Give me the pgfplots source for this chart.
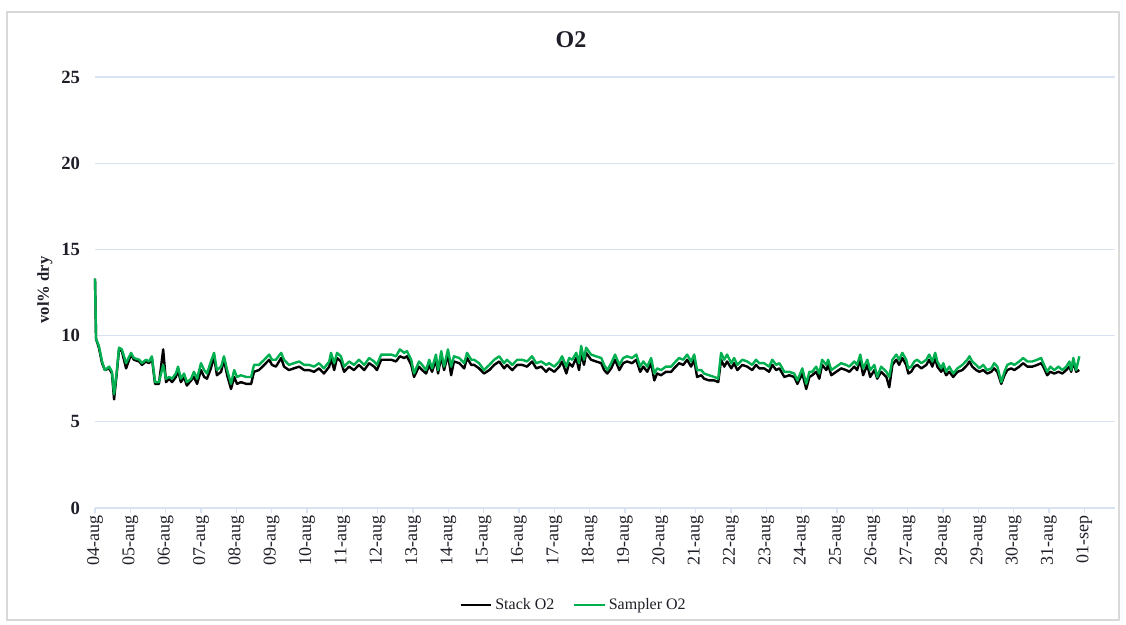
\documentclass[border=0pt]{standalone}
\usepackage{fontspec}
\setmainfont{Liberation Serif}
\usepackage{pgfplots}
\usepackage{pgfplotstable}
\pgfplotsset{compat=1.18}
\definecolor{gridc}{RGB}{217,226,242}
\definecolor{samplergreen}{RGB}{0,176,80}
\definecolor{labc}{RGB}{30,30,40}
\definecolor{borderc}{RGB}{217,217,217}
\pgfplotstableread{
day stack sampler
0.00 13.3 13.3
0.03 9.8 9.8
0.11 9.3 9.4
0.20 8.4 8.5
0.28 8.0 8.0
0.40 8.1 8.2
0.48 7.8 7.9
0.54 6.3 6.6
0.62 7.9 8.0
0.68 9.2 9.3
0.76 9.1 9.2
0.88 8.1 8.4
1.02 8.9 9.0
1.10 8.6 8.7
1.25 8.5 8.6
1.33 8.3 8.4
1.44 8.5 8.6
1.53 8.4 8.5
1.61 8.7 8.8
1.70 7.2 7.3
1.81 7.2 7.3
1.93 9.2 8.3
2.01 7.3 7.5
2.10 7.5 7.6
2.18 7.3 7.5
2.29 7.6 7.8
2.35 8.0 8.2
2.43 7.3 7.5
2.52 7.6 7.8
2.60 7.1 7.3
2.72 7.4 7.5
2.80 7.6 7.9
2.89 7.2 7.5
3.00 8.0 8.4
3.09 7.6 8.0
3.17 7.5 7.8
3.28 8.1 8.5
3.37 8.8 9.0
3.45 7.7 8.0
3.57 7.9 8.2
3.65 8.6 8.8
3.74 7.7 8.0
3.85 6.9 7.2
3.94 7.6 8.0
4.02 7.2 7.6
4.13 7.3 7.7
4.28 7.2 7.6
4.42 7.2 7.6
4.50 7.9 8.3
4.64 8.0 8.3
4.79 8.3 8.6
4.93 8.6 8.9
5.01 8.3 8.6
5.12 8.2 8.6
5.27 8.7 9.0
5.35 8.2 8.6
5.49 8.0 8.3
5.63 8.1 8.4
5.78 8.2 8.5
5.92 8.0 8.3
6.06 8.0 8.3
6.20 7.9 8.2
6.34 8.1 8.4
6.48 7.8 8.1
6.63 8.2 8.5
6.68 8.7 9.0
6.77 8.0 8.4
6.85 8.7 9.0
6.96 8.5 8.8
7.05 7.9 8.2
7.19 8.2 8.5
7.33 8.0 8.3
7.47 8.3 8.6
7.62 8.0 8.3
7.76 8.4 8.7
7.90 8.2 8.5
7.98 8.0 8.3
8.10 8.6 8.9
8.24 8.6 8.9
8.38 8.6 8.9
8.52 8.5 8.8
8.63 8.8 9.2
8.75 8.7 9.0
8.83 8.8 9.1
8.95 8.3 8.6
9.03 7.6 7.8
9.17 8.2 8.5
9.26 8.0 8.3
9.37 7.8 8.0
9.46 8.3 8.6
9.54 7.9 8.1
9.65 8.6 8.9
9.71 7.8 8.0
9.80 8.8 9.1
9.88 8.0 8.2
9.99 8.9 9.2
10.08 7.7 8.2
10.16 8.5 8.8
10.31 8.4 8.7
10.45 8.1 8.4
10.53 8.7 9.0
10.65 8.3 8.6
10.73 8.3 8.6
10.87 8.1 8.4
11.01 7.8 8.0
11.16 8.0 8.3
11.30 8.3 8.6
11.44 8.5 8.8
11.58 8.1 8.4
11.66 8.3 8.6
11.81 8.0 8.3
11.95 8.3 8.6
12.09 8.3 8.6
12.23 8.2 8.5
12.37 8.5 8.8
12.49 8.1 8.4
12.63 8.2 8.5
12.77 7.9 8.3
12.85 8.1 8.4
13.00 7.9 8.2
13.14 8.2 8.5
13.22 8.5 8.8
13.34 7.8 8.2
13.42 8.4 8.7
13.51 8.2 8.6
13.62 8.7 9.0
13.70 8.0 8.4
13.76 9.0 9.4
13.84 8.3 8.6
13.90 9.0 9.3
14.04 8.6 8.9
14.18 8.5 8.8
14.33 8.4 8.7
14.41 8.0 8.3
14.50 7.8 8.0
14.61 8.1 8.4
14.72 8.6 8.9
14.84 8.0 8.3
14.95 8.4 8.7
15.06 8.5 8.8
15.20 8.4 8.7
15.32 8.6 8.9
15.43 7.9 8.2
15.52 8.2 8.5
15.63 7.9 8.2
15.74 8.4 8.7
15.83 7.4 7.8
15.91 7.8 8.1
16.02 7.7 8.0
16.16 7.9 8.2
16.31 7.9 8.2
16.39 8.1 8.4
16.53 8.4 8.7
16.65 8.3 8.6
16.76 8.6 8.9
16.87 8.2 8.5
16.96 8.6 8.9
17.04 7.6 8.0
17.16 7.7 8.0
17.24 7.5 7.8
17.38 7.4 7.7
17.53 7.4 7.6
17.64 7.3 7.5
17.72 8.6 9.0
17.81 8.2 8.6
17.89 8.5 8.9
18.01 8.1 8.4
18.09 8.4 8.7
18.18 8.0 8.3
18.32 8.3 8.6
18.46 8.2 8.5
18.60 8.0 8.3
18.71 8.3 8.6
18.80 8.1 8.4
18.94 8.1 8.4
19.08 7.9 8.2
19.17 8.3 8.6
19.28 8.0 8.3
19.37 8.1 8.4
19.51 7.6 7.9
19.65 7.7 7.9
19.79 7.6 7.8
19.88 7.2 7.4
20.02 7.8 8.1
20.13 6.9 7.2
20.22 7.6 7.9
20.30 7.7 7.9
20.41 7.9 8.2
20.50 7.5 7.8
20.58 8.3 8.6
20.70 8.0 8.3
20.75 8.3 8.6
20.84 7.7 8.0
20.98 7.9 8.2
21.12 8.1 8.4
21.26 8.0 8.3
21.35 7.9 8.2
21.49 8.2 8.5
21.57 8.0 8.3
21.66 8.6 8.9
21.74 7.7 8.1
21.86 8.3 8.6
21.94 7.6 8.0
22.06 8.0 8.3
22.14 7.5 7.6
22.25 7.9 8.2
22.40 7.6 7.9
22.48 7.0 7.6
22.57 8.3 8.6
22.68 8.6 8.9
22.76 8.3 8.6
22.85 8.7 9.0
22.96 8.3 8.6
23.02 7.8 8.1
23.10 7.9 8.2
23.19 8.2 8.5
23.27 8.3 8.6
23.39 8.1 8.4
23.53 8.3 8.6
23.61 8.6 8.9
23.70 8.2 8.5
23.78 8.7 9.0
23.84 8.2 8.5
23.95 7.9 8.1
24.01 8.1 8.4
24.09 7.7 7.9
24.18 7.9 8.2
24.29 7.6 7.8
24.41 7.9 8.1
24.55 8.0 8.3
24.69 8.3 8.6
24.75 8.5 8.8
24.83 8.2 8.5
24.94 8.0 8.3
25.03 7.9 8.1
25.14 8.0 8.3
25.25 7.8 8.0
25.37 7.9 8.1
25.45 8.1 8.4
25.54 7.9 8.2
25.65 7.2 7.3
25.74 7.7 7.9
25.82 8.0 8.3
25.93 8.1 8.4
26.02 8.0 8.3
26.16 8.2 8.5
26.27 8.4 8.7
26.39 8.2 8.5
26.53 8.2 8.5
26.67 8.3 8.6
26.78 8.4 8.7
26.84 8.2 8.4
26.95 7.7 7.9
27.04 7.9 8.2
27.15 7.8 8.0
27.27 7.9 8.2
27.38 7.8 8.0
27.49 8.0 8.2
27.58 8.2 8.5
27.63 7.9 8.0
27.69 8.5 8.7
27.77 7.9 8.0
27.86 8.0 8.8
}\datatable
\begin{document}
\begin{tikzpicture}
\begin{scope}[x=0.75pt,y=0.75pt]
\path[use as bounding box] (0,0) rectangle (1126,624);
\draw[borderc, line width=1.2pt] (7,4) rectangle (1119,612);
\node[font=\rmfamily\bfseries\fontsize{18}{20}\selectfont, text=labc] at (571,584) {O2};
\node[font=\rmfamily\bfseries\fontsize{12.5}{14}\selectfont, text=labc, rotate=90] at (45,334) {vol\% dry};
\end{scope}
\begin{axis}[
  at={(71.25pt,87pt)}, anchor=south west,
  scale only axis,
  width=765pt, height=323.25pt,
  xmin=0, xmax=28.87,
  ymin=0, ymax=25,
  axis x line=bottom, axis y line=left,
  x axis line style={gridc, line width=0.9pt, -},
  y axis line style={draw=none},
  ymajorgrids,
  grid style={gridc, line width=0.9pt},
  ytick={0,5,10,15,20,25},
  xtick={0,...,28},
  xticklabels={04-aug,05-aug,06-aug,07-aug,08-aug,09-aug,10-aug,11-aug,12-aug,13-aug,14-aug,15-aug,16-aug,17-aug,18-aug,19-aug,20-aug,21-aug,22-aug,23-aug,24-aug,25-aug,26-aug,27-aug,28-aug,29-aug,30-aug,31-aug,01-sep},
  tick align=outside,
  major tick length=3.75pt,
  xtick style={gridc, line width=0.9pt},
  ytick style={draw=none},
  /pgf/number format/assume math mode=true,
  xticklabel style={rotate=90, anchor=east, font=\rmfamily\fontsize{13.5}{15}\selectfont, text=labc, inner sep=2pt},
  yticklabel style={font=\rmfamily\bfseries\fontsize{14}{15}\selectfont, text=labc, xshift=-4pt},
  legend columns=2,
  legend style={at={(0.4696,-0.225)}, anchor=center, draw=none, fill=none,
    font=\rmfamily\fontsize{12}{14}\selectfont, text=labc,
    /tikz/every even column/.append style={column sep=12pt}},
  legend image code/.code={\draw[#1] (0pt,0pt) -- (23pt,0pt);},
  clip=false,
]
\addplot[black, line width=1.8pt, line join=round] table[x=day, y=stack] {\datatable};
\addlegendentry{Stack O2}
\addplot[samplergreen, line width=1.8pt, line join=round] table[x=day, y=sampler] {\datatable};
\addlegendentry{Sampler O2}
\end{axis}
\end{tikzpicture}
\end{document}
